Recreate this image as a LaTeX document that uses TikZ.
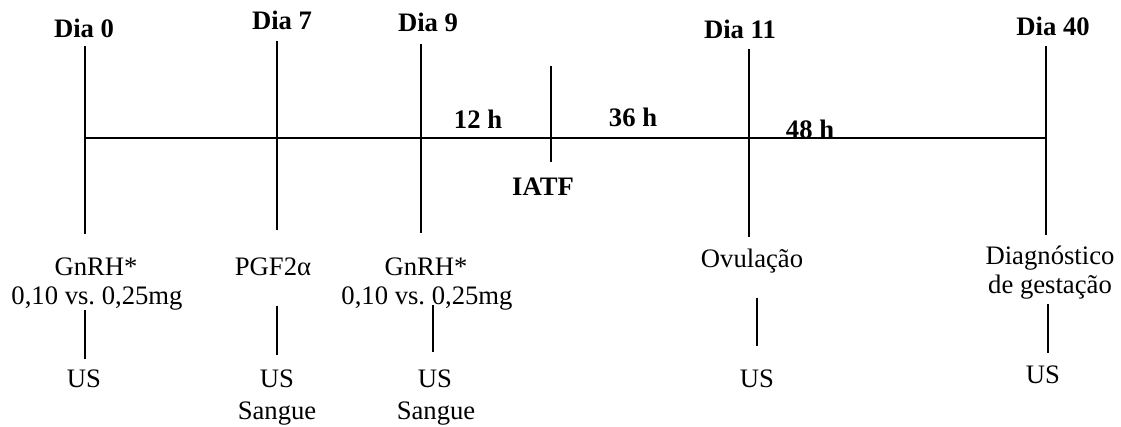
\documentclass[tikz,border=0pt]{standalone}
\usepackage{fontspec}
\setmainfont{Liberation Serif}
\tikzset{every picture/.style={line width=0.75pt}}
\tikzset{
  tick/.style={line width=1.2pt},
  dia/.style={anchor=base,inner sep=0pt,font=\fontsize{20}{24}\selectfont\bfseries},
  txt/.style={anchor=base,inner sep=0pt,font=\fontsize{20}{24}\selectfont}
}
\begin{document}
\begin{tikzpicture}[x=0.75pt,y=0.75pt,yscale=-1,xscale=1]
\useasboundingbox (0,0) rectangle (1121,426);

% Text Node
\draw (84,37) node [dia] (d0) {Dia 0};
\draw (282,29) node [dia] (d7) {Dia 7};
\draw (428,31) node [dia] (d9) {Dia 9};
\draw (740,38) node [dia] (d11) {Dia 11};
\draw (1053,35) node [dia] (d40) {Dia 40};
% Text Node
\draw (478,128) node [dia] (h12) {12 h};
\draw (633,126) node [dia] (h36) {36 h};
\draw (810,138) node [dia] (h48) {48 h};
\draw (543,195) node [dia] (iatf) {IATF};

% Text Node
\draw (96,275) node [txt] (gnrh0) {GnRH*};
\draw (97,304) node [txt] (dose0) {0,10 vs.\ 0,25mg};
\draw (273,275) node [txt] (pgf) {PGF2α};
\draw (426,275) node [txt] (gnrh9) {GnRH*};
\draw (427,304) node [txt] (dose9) {0,10 vs.\ 0,25mg};
\draw (752,267) node [txt] (ovul) {Ovulação};
\draw (1050,264) node [txt] (diag) {Diagnóstico};
\draw (1050,293) node [txt] (diagb) {de gestação};
% Text Node
\draw (84,387) node [txt] (us0) {US};
\draw (277,387) node [txt] (us7) {US};
\draw (435,387) node [txt] (us9) {US};
\draw (757,387) node [txt] (us11) {US};
\draw (1043,383) node [txt] (us40) {US};
\draw (277,419) node [txt] (sang7) {Sangue};
\draw (436,419) node [txt] (sang9) {Sangue};

% Coordinates
\coordinate (a0) at (85,138);
\coordinate (a40) at (1046,138);
\coordinate (t0) at (85,46);   \coordinate (b0) at (85,234);
\coordinate (t7) at (277,41);  \coordinate (b7) at (277,230);
\coordinate (t9) at (421,44);  \coordinate (b9) at (421,233);
\coordinate (ti) at (551,66);  \coordinate (bi) at (551,162);
\coordinate (t11) at (749,49); \coordinate (b11) at (749,237);
\coordinate (t40) at (1046,46); \coordinate (b40) at (1046,235);
\coordinate (u0) at (85,310);  \coordinate (l0) at (85,359);
\coordinate (u7) at (277,306); \coordinate (l7) at (277,355);
\coordinate (u9) at (433,305); \coordinate (l9) at (433,352);
\coordinate (u11) at (757,298); \coordinate (l11) at (757,346);
\coordinate (u40) at (1048,304); \coordinate (l40) at (1048,353);

%Straight Lines
\draw [tick] (a0) -- (a40) ;
\draw [tick] (t0) -- (b0) ;
\draw [tick] (t7) -- (b7) ;
\draw [tick] (t9) -- (b9) ;
\draw [tick] (ti) -- (bi) ;
\draw [tick] (t11) -- (b11) ;
\draw [tick] (t40) -- (b40) ;
%Straight Lines
\draw [tick] (u0) -- (l0) ;
\draw [tick] (u7) -- (l7) ;
\draw [tick] (u9) -- (l9) ;
\draw [tick] (u11) -- (l11) ;
\draw [tick] (u40) -- (l40) ;

\end{tikzpicture}
\end{document}
